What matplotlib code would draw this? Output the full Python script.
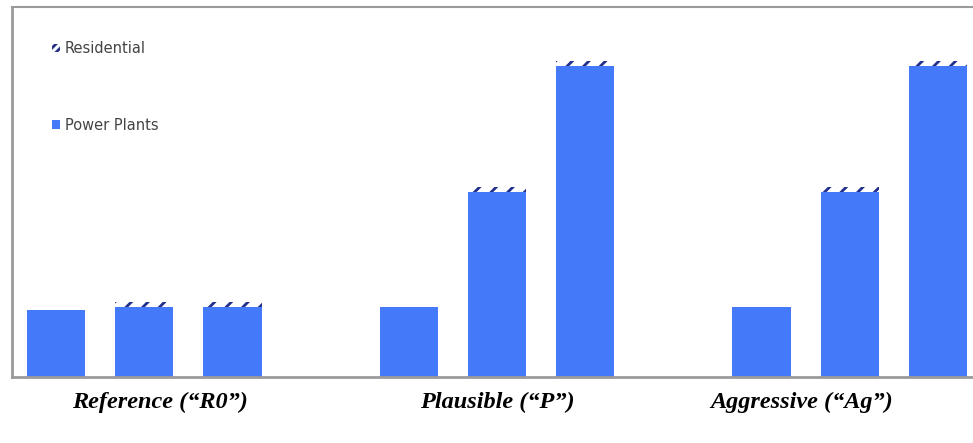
import matplotlib
matplotlib.use("Agg")
import matplotlib.pyplot as plt
from matplotlib.patches import Patch

# ---- data ----
categories = ["Reference (\u201cR0\u201d)", "Plausible (\u201cP\u201d)", "Aggressive (\u201cAg\u201d)"]
bar_positions = [0, 1, 2, 4, 5, 6, 8, 9, 10]
power_plants = [18, 19, 19, 19, 50, 84, 19, 50, 84]
residential = [0, 1.4, 1.4, 0, 1.4, 1.4, 0, 1.4, 1.4]
label_positions = [1.18, 5, 8.45]
series_names = ["Residential", "Power Plants"]

blue = "#4479FA"
navy = "#23308C"

plt.rcParams["hatch.linewidth"] = 2.0

fig = plt.figure(figsize=(9.73, 4.43), dpi=100)
ax = fig.add_axes([12 / 973, 66 / 443, 970 / 973, 370 / 443])

ax.bar(bar_positions, power_plants, width=0.66, color=blue, linewidth=0)
ax.bar(bar_positions, residential, width=0.66, bottom=power_plants,
       color="white", edgecolor=navy, linewidth=0, hatch="//")

ax.set_xlim(-0.5, 10.5)
ax.set_ylim(0, 100)
ax.set_xticks([])
ax.set_yticks([])

for side in ["left", "top", "bottom"]:
    ax.spines[side].set_color("#9a9a9a")
ax.spines["left"].set_linewidth(2.0)
ax.spines["bottom"].set_linewidth(2.0)
ax.spines["top"].set_linewidth(1.5)
ax.spines["right"].set_visible(False)

for x, lab in zip(label_positions, categories):
    ax.text(x, -7, lab, ha="center", va="center", fontsize=17.5,
            family="Liberation Serif", weight="bold", style="italic",
            color="black", clip_on=False)

handles = [Patch(facecolor="white", edgecolor=navy, linewidth=0, hatch="////"),
           Patch(facecolor=blue, linewidth=0)]
leg = ax.legend(handles, series_names, loc="upper left",
                bbox_to_anchor=(33 / 970, 1 - 27 / 370), frameon=False,
                fontsize=10.5, labelspacing=4.2, handlelength=0.5,
                handleheight=0.5, handletextpad=0.35, borderpad=0)
for t in leg.get_texts():
    t.set_color("#444444")

fig.savefig("out.png", dpi=100)
